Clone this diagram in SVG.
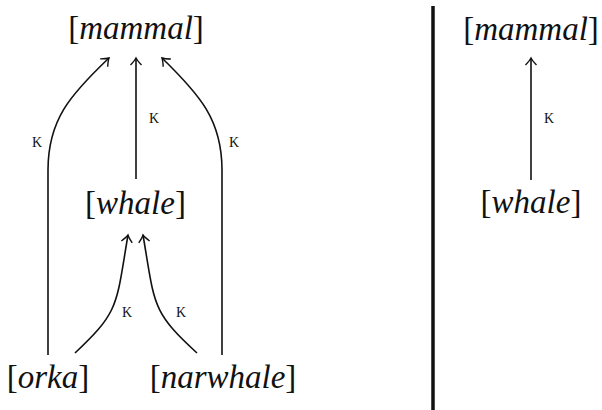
<svg xmlns="http://www.w3.org/2000/svg" width="602" height="410" viewBox="0 0 602 410">
<style>
.n{font-size:33px;fill:#111;text-anchor:middle}
.i{font-style:italic}
.k{font-size:14px;fill:#111;text-anchor:middle}
.e{fill:none;stroke:#111;stroke-width:1.6;marker-end:url(#ah)}
</style>
<defs>
<marker id="ah" viewBox="-9 -7 11 14" markerWidth="11" markerHeight="14" refX="0" refY="0" orient="auto" markerUnits="userSpaceOnUse">
<path d="M-7,-5.5 Q-2.5,-1.2 0,0 Q-2.5,1.2 -7,5.5" fill="none" stroke="#111" stroke-width="1.4"/>
</marker>
</defs>
<rect width="602" height="410" fill="#fff"/>
<g id="nodes" font-family="Liberation Serif">
<g id="mammal-left"><text class="n" x="136" y="39">[<tspan class="i">mammal</tspan>]</text></g>
<g id="whale-left"><text class="n" x="135.5" y="214">[<tspan class="i">whale</tspan>]</text></g>
<g id="orka"><text class="n" x="48" y="388">[<tspan class="i">orka</tspan>]</text></g>
<g id="narwhale"><text class="n" x="223" y="388">[<tspan class="i">narwhale</tspan>]</text></g>
<g id="mammal-right"><text class="n" x="531" y="40">[<tspan class="i">mammal</tspan>]</text></g>
<g id="whale-right"><text class="n" x="531" y="213">[<tspan class="i">whale</tspan>]</text></g>
</g>
<g id="connectors" font-family="Liberation Serif">
<path class="e" d="M48,355 L48,170 C48,120 70,95 109,58"/>
<path class="e" d="M136,179 L136,58"/>
<path class="e" d="M222,355 L222,170 C222,120 200,95 162,58"/>
<path class="e" d="M75,353 C120,311 116,305 128,235"/>
<path class="e" d="M197,353 C151,311 155,305 143,235"/>
<path class="e" d="M531,180 L531,58"/>
<text class="k" x="37" y="147">K</text>
<text class="k" x="154" y="123">K</text>
<text class="k" x="234" y="147">K</text>
<text class="k" x="127" y="317">K</text>
<text class="k" x="181" y="317">K</text>
<text class="k" x="549" y="123">K</text>
</g>
<line x1="433" y1="6" x2="433" y2="410" stroke="#111" stroke-width="3.5"/>
</svg>
